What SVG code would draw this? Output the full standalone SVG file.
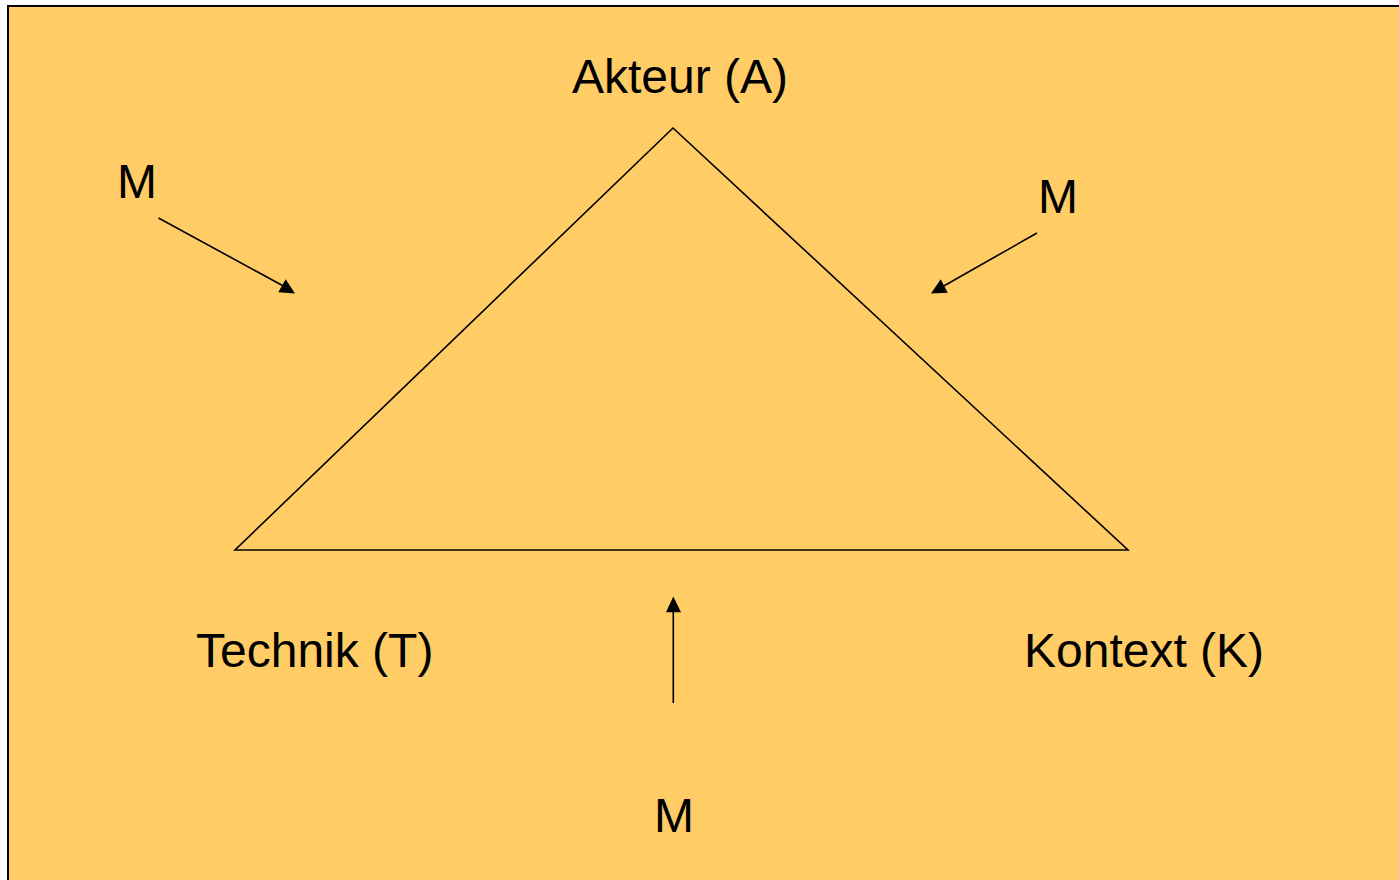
<svg xmlns="http://www.w3.org/2000/svg" width="1399" height="880" viewBox="0 0 1399 880">
<style>
.lbl{font-family:"Liberation Sans",Arial,sans-serif;font-size:48px;fill:#000}
.ln{stroke:#000;stroke-width:1.6;fill:none}
.ah{fill:#000}
</style>
<rect x="0" y="0" width="1399" height="880" fill="#fff"/>
<rect x="8" y="6" width="1395" height="880" fill="#FFCC66" stroke="#000" stroke-width="2"/>
<g id="triangle">
<polygon class="ln" points="673,128 235,550 1128,550"/>
</g>
<g id="node-akteur"><text class="lbl" x="572" y="93">Akteur (A)</text></g>
<g id="node-technik"><text class="lbl" x="196" y="667">Technik (T)</text></g>
<g id="node-kontext"><text class="lbl" x="1024" y="667">Kontext (K)</text></g>
<g id="node-m1"><text class="lbl" x="117" y="198">M</text></g>
<g id="node-m2"><text class="lbl" x="1038" y="213">M</text></g>
<g id="node-m3"><text class="lbl" x="654" y="832">M</text></g>
<g id="connectors">
<line class="ln" x1="158.5" y1="218" x2="287" y2="288"/>
<polygon class="ah" points="285.7,279.3 278.3,292.3 295,293.5"/>
<line class="ln" x1="1037" y1="233" x2="942" y2="287"/>
<polygon class="ah" points="940.7,279.3 931,293.5 947.7,292.7"/>
<line class="ln" x1="673.3" y1="703" x2="673.3" y2="608"/>
<polygon class="ah" points="673.3,596.5 666,612.3 681,612.3"/>
</g>
</svg>
